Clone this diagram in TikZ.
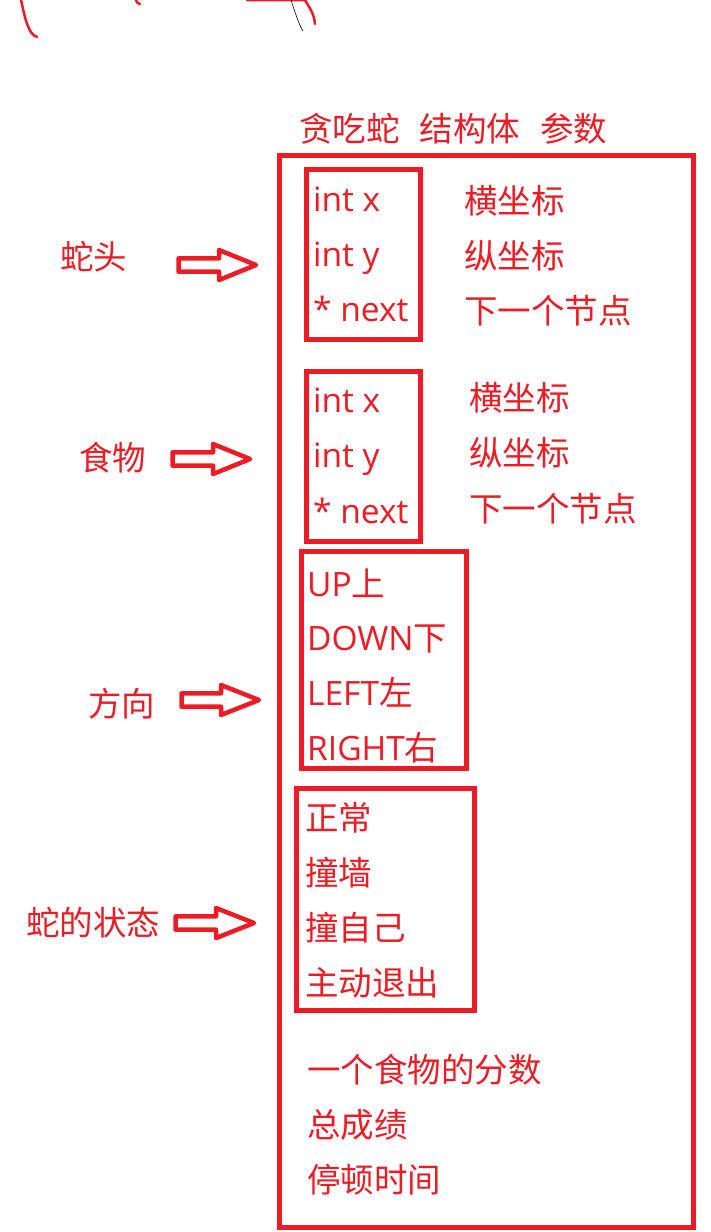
\documentclass[tikz,border=0pt]{standalone}
\usepackage{fontspec}
\setmainfont{Noto Sans CJK SC}
\newfontfamily\latn{Open Sans}
\definecolor{pred}{HTML}{ED1C24}
\tikzset{
  lbl/.style={text=pred, anchor=base west, inner sep=0pt, font=\fontsize{33.5}{38}\selectfont},
  frame/.style={draw=pred, line width=5pt},
  harrow/.style={draw=pred, line width=4.5pt, line join=round},
  scribble/.style={draw=pred, line width=2.5pt, line cap=round, line join=round},
}
\newcommand\hollowarrow[4]{% tail x, head base x, tip x, centre y
  \draw[harrow] (#1,#4-6.6) -- (#2,#4-6.6) -- (#2,#4-15) -- (#3,#4) -- (#2,#4+15) -- (#2,#4+6.6) -- (#1,#4+6.6) -- cycle;}
\begin{document}
\begin{tikzpicture}[x=1pt,y=-1pt]
\useasboundingbox (0,0) rectangle (710,1232);

% scribbles at the top
\draw[scribble] (21,0) .. controls (25,18) and (28,34) .. (37,37);
\draw[scribble] (136,0) .. controls (137,3) .. (140,4);
\draw[scribble] (247,0) -- (305,0) .. controls (308,6) and (314,12) .. (315,24);
\draw[black, line width=0.6pt] (291,0) .. controls (295,12) and (299,25) .. (303,31);

% title
\node[lbl] (title) at (299,141) {贪吃蛇\hspace{20pt}结构体\hspace{20pt}参数};

% outer frame
\draw[frame] (279,155) rectangle (693.5,1227.5);

% box 1: snake head
\draw[frame] (306,169) rectangle (420,339);
\node[lbl] (h1) at (313,211) {\latn int x};
\node[lbl] (h2) at (313,266) {\latn int y};
\node[lbl] (h3) at (313,321) {\latn * next};
\node[lbl] (h1c) at (464,213) {横坐标};
\node[lbl] (h2c) at (464,268) {纵坐标};
\node[lbl] (h3c) at (464,323) {下一个节点};

% box 2: food
\draw[frame] (306,371) rectangle (420.5,541);
\node[lbl] (f1) at (313,412) {\latn int x};
\node[lbl] (f2) at (313,467) {\latn int y};
\node[lbl] (f3) at (313,523) {\latn * next};
\node[lbl] (f1c) at (469,410) {横坐标};
\node[lbl] (f2c) at (469,465) {纵坐标};
\node[lbl] (f3c) at (469,521) {下一个节点};

% box 3: direction
\draw[frame] (301,551) rectangle (466.5,768);
\node[lbl] (d1) at (307,596) {{\latn UP}上};
\node[lbl] (d2) at (307,650) {{\latn DOWN}下};
\node[lbl] (d3) at (307,705) {{\latn LEFT}左};
\node[lbl] (d4) at (307,760) {{\latn RIGHT}右};

% box 4: status
\draw[frame] (296.5,788.5) rectangle (474,1010);
\node[lbl] (s1) at (305,830) {正常};
\node[lbl] (s2) at (305,885) {撞墙};
\node[lbl] (s3) at (305,940) {撞自己};
\node[lbl] (s4) at (305,995) {主动退出};

% remaining fields
\node[lbl] (o1) at (307,1082) {一个食物的分数};
\node[lbl] (o2) at (307,1137) {总成绩};
\node[lbl] (o3) at (307,1192) {停顿时间};

% left labels
\node[lbl] (L1) at (60,269) {蛇头};
\node[lbl] (L2) at (79,470) {食物};
\node[lbl] (L3) at (88,716) {方向};
\node[lbl] (L4) at (26,935) {蛇的状态};

% hollow arrows
\hollowarrow{178.5}{219}{256}{265}
\hollowarrow{172.5}{213}{250}{459}
\hollowarrow{181.5}{221}{259}{700}
\hollowarrow{175.5}{216}{254}{923}
\end{tikzpicture}
\end{document}
